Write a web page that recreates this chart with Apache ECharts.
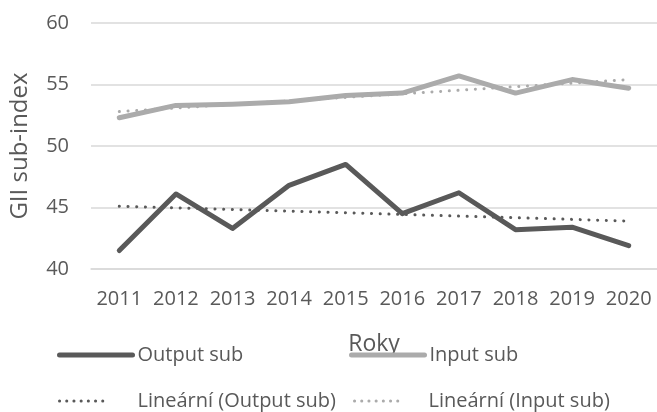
<!DOCTYPE html>
<html>
<head>
<meta charset="utf-8">
<script src="https://cdn.jsdelivr.net/npm/echarts@6/dist/echarts.min.js"></script>
<style>
    html, body { margin: 0; padding: 0; background: #fff; }
    #chart { width: 657px; height: 412px; }
</style>
</head>
<body>
<div id="chart"></div>
<script>
const years = ["2011", "2012", "2013", "2014", "2015", "2016", "2017", "2018", "2019", "2020"];
const outputSub = [41.5, 46.1, 43.3, 46.8, 48.5, 44.5, 46.2, 43.2, 43.4, 41.9];
const inputSub = [52.3, 53.3, 53.4, 53.6, 54.1, 54.3, 55.7, 54.3, 55.4, 54.7];
// trend lines read at the first and last year, joined straight
const outputTrend = [45.1, null, null, null, null, null, null, null, null, 43.9];
const inputTrend = [52.8, null, null, null, null, null, null, null, null, 55.4];

const textColor = "#595959";
const fontFamily = "'Open Sans', sans-serif";
const darkColor = "#595959";
const lightColor = "#ababab";

// one legend per item so that each sits where it should
function legendItem(name, left, top, dotted, textGap) {
    return {
        data: [name],
        left: left,
        top: top,
        padding: 0,
        itemWidth: dotted ? 50 : 73,
        itemHeight: 14,
        itemGap: 0,
        itemStyle: { opacity: 0 },
        lineStyle: dotted
            ? { type: [0.1, 7.1], cap: "round", width: 3 }
            : { cap: "round", width: 5 },
        textStyle: {
            color: textColor,
            fontSize: 20,
            lineHeight: 22,
            fontFamily: fontFamily,
            padding: [0, 0, 0, textGap]
        }
    };
}

const chart = echarts.init(document.getElementById("chart"), null, { renderer: "canvas" });
chart.setOption({
    animation: false,
    grid: {
        left: 90,
        right: 0,
        top: 23,
        height: 246,
        containLabel: false
    },
    legend: [
        legendItem("Output sub", 57, 344, false, 0),
        legendItem("Input sub", 349, 344, false, 0),
        legendItem("Lineární (Output sub)", 58, 390, true, 23),
        legendItem("Lineární (Input sub)", 353, 390, true, 19)
    ],
    xAxis: {
        type: "category",
        data: years,
        boundaryGap: true,
        name: "Roky",
        nameLocation: "middle",
        nameGap: 64,
        nameTextStyle: { color: textColor, fontSize: 23, fontFamily: fontFamily },
        axisLine: { lineStyle: { color: "#d9d9d9", width: 1.5 } },
        axisTick: { show: false },
        axisLabel: { color: textColor, fontSize: 20, fontFamily: fontFamily, margin: 20, interval: 0 }
    },
    yAxis: {
        type: "value",
        min: 40,
        max: 60,
        interval: 5,
        name: "GII sub-index",
        nameLocation: "middle",
        nameGap: 59,
        nameTextStyle: { color: textColor, fontSize: 24, fontFamily: fontFamily },
        axisLine: { show: false },
        axisTick: { show: false },
        axisLabel: { color: textColor, fontSize: 20, fontFamily: fontFamily, margin: 22 },
        splitLine: { lineStyle: { color: "#d9d9d9", width: 1.5 } }
    },
    series: [
        {
            name: "Output sub",
            type: "line",
            data: outputSub,
            symbol: "none",
            color: darkColor,
            lineStyle: { color: darkColor, width: 5, cap: "round", join: "round" },
            z: 3
        },
        {
            name: "Input sub",
            type: "line",
            data: inputSub,
            symbol: "none",
            color: lightColor,
            lineStyle: { color: lightColor, width: 5, cap: "round", join: "round" },
            z: 3
        },
        {
            name: "Lineární (Output sub)",
            type: "line",
            data: outputTrend,
            connectNulls: true,
            symbol: "none",
            color: darkColor,
            lineStyle: { color: darkColor, width: 3, type: [0.1, 8.6], cap: "round" },
            z: 2
        },
        {
            name: "Lineární (Input sub)",
            type: "line",
            data: inputTrend,
            connectNulls: true,
            symbol: "none",
            color: lightColor,
            lineStyle: { color: lightColor, width: 3, type: [0.1, 8.6], cap: "round" },
            z: 2
        }
    ]
});
</script>
</body>
</html>
